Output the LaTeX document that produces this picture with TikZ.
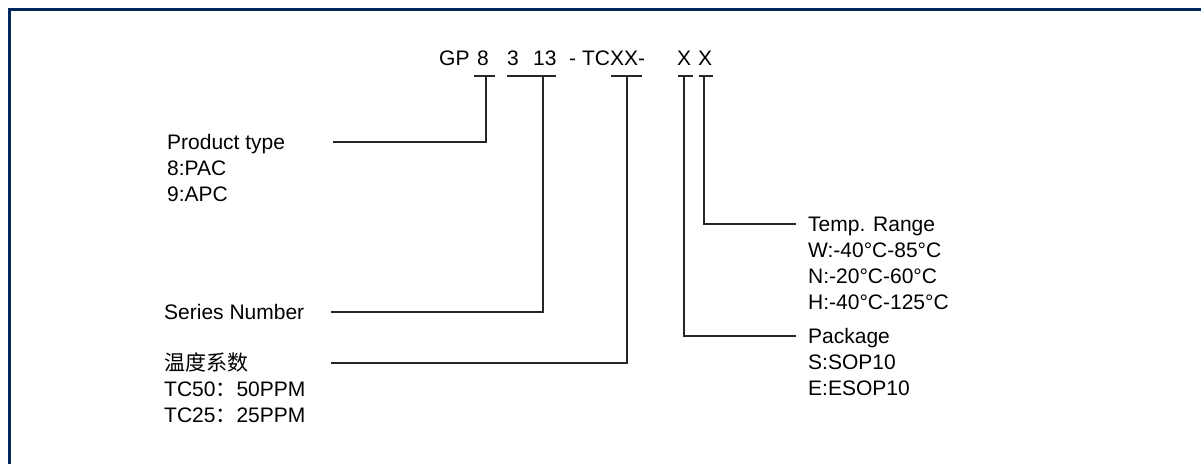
\documentclass[tikz,border=0pt]{standalone}
\usepackage{fontspec}
\setmainfont{Liberation Sans}
\newfontfamily\cjk{Noto Sans CJK SC}
\definecolor{framenavy}{RGB}{0,40,90}
\tikzset{
  lbl/.style={font=\fontsize{21}{26}\selectfont, inner sep=0pt, text height=15pt, text depth=0pt, anchor=west},
  code/.style={font=\fontsize{21}{26}\selectfont, inner sep=0pt, anchor=base west},
  lead/.style={line width=1.2pt, black!85}
}
\begin{document}
\begin{tikzpicture}[x=1pt,y=-1pt]
\useasboundingbox (0,0) rectangle (1201,463);
\draw[framenavy, line width=3pt] (1210,9.5) -- (9.5,9.5) -- (9.5,475);

% part number
\node[code] (gp) at (439,65) {GP};
\node[code] (d8) at (477,65) {8};
\node[code] (d3) at (507,65) {3};
\node[code] (d13) at (533,65) {13};
\node[code] (tcxx) at (569,65) {- TCXX-};
\node[code] (xa) at (677,65) {X};
\node[code] (xb) at (698,65) {X};

% bars under the fields
\draw[lead] (474,76) -- (495,76);
\draw[lead] (507,76) -- (556,76);
\draw[lead] (611,76) -- (642,76);
\draw[lead] (678,76) -- (693,76);
\draw[lead] (699,76) -- (713,76);
\coordinate (b1) at (486,76);
\coordinate (b2) at (543,76);
\coordinate (b3) at (627,76);
\coordinate (b4) at (684,76);
\coordinate (b5) at (704,76);

% left labels
\node[lbl] (type) at (167,142) {Product type};
\node[lbl] (type1) at (167,168) {8:PAC};
\node[lbl] (type2) at (167,194) {9:APC};
\node[lbl] (series) at (164,312) {Series Number};
\node[lbl] (tc) at (164,363) {\cjk 温度系数};
\node[lbl] (tc1) at (164,389) {TC50{\cjk ：}50PPM};
\node[lbl] (tc2) at (164,415) {TC25{\cjk ：}25PPM};

% right labels
\node[lbl] (temp) at (808,224) {Temp. Range};
\node[lbl] (temp1) at (808,250) {W:-40°C-85°C};
\node[lbl] (temp2) at (808,276) {N:-20°C-60°C};
\node[lbl] (temp3) at (808,302) {H:-40°C-125°C};
\node[lbl] (pkg) at (808,336) {Package};
\node[lbl] (pkg1) at (808,362) {S:SOP10};
\node[lbl] (pkg2) at (808,388) {E:ESOP10};

% leaders
\coordinate (e1) at (333,142);
\coordinate (e2) at (331,312);
\coordinate (e3) at (331,363);
\coordinate (e4) at (796,336);
\coordinate (e5) at (796,224);
\draw[lead] (b1) |- (e1);
\draw[lead] (b2) |- (e2);
\draw[lead] (b3) |- (e3);
\draw[lead] (b4) |- (e4);
\draw[lead] (b5) |- (e5);
\end{tikzpicture}
\end{document}
